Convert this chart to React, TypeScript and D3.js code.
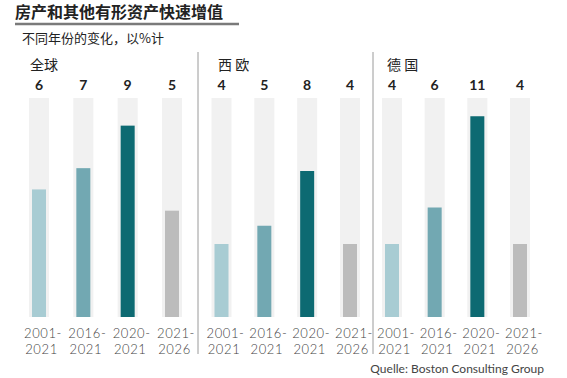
import React from "react";
import * as d3 from "d3";

const periods = ["2001-2021", "2016-2021", "2020-2021", "2021-2026"];
const regions = ["全球", "西 欧", "德 国"];
const globalValues = [6, 7, 9, 5];
const westEuropeValues = [4, 5, 8, 4];
const germanyValues = [4, 6, 11, 4];
const seriesValues = [globalValues, westEuropeValues, germanyValues];
const barColors = ["#a8ccd3", "#72a8b2", "#0d6a72", "#bcbcbc"];

const W = 567;
const H = 378;
const panelRanges: [number, number][] = [
  [39, 172],
  [221.5, 350],
  [392, 520],
];
const panelDomainMax = [10.3, 12, 12];
const headerX = [30, 218, 387];
const dividers = [198, 373];
const yTop = 98;
const yBottom = 317;
const bgW = 20;
const barW = 14;

export default function App() {
  const num = "Lato, 'Noto Sans', sans-serif";
  const cjk = "'Noto Sans CJK SC', 'Noto Sans', sans-serif";
  return (
    <div style={{ position: "fixed", left: 0, top: 0, width: W, height: H, background: "#fff" }}>
      <svg width={W} height={H} style={{ display: "block" }}>
        <rect width={W} height={H} fill="#fff" />
        <text x={15} y={18} fontFamily={cjk} fontWeight={700} fontSize={16} fill="#222">
          房产和其他有形资产快速增值
        </text>
        <line x1={15} x2={239} y1={24} y2={24} stroke="#7a7a7a" strokeWidth={2.5} />
        <text x={22} y={43} fontFamily={cjk} fontSize={13} fill="#222">
          不同年份的变化，以%计
        </text>
        {dividers.map((x, i) => (
          <line key={i} x1={x} x2={x} y1={52} y2={354} stroke="#9a9a9a" strokeWidth={1} />
        ))}
        {regions.map((r, pi) => {
          const x = d3.scalePoint<string>().domain(periods).range(panelRanges[pi]);
          const y = d3.scaleLinear().domain([0, panelDomainMax[pi]]).range([yBottom, yTop]);
          const vals = seriesValues[pi];
          return (
            <g key={r}>
              <text x={headerX[pi]} y={70} fontFamily={cjk} fontSize={14} fill="#222">
                {r}
              </text>
              {periods.map((p, i) => {
                const cx = x(p) as number;
                const [a, b] = p.split("-");
                return (
                  <g key={p}>
                    <rect x={cx - bgW / 2} y={y(panelDomainMax[pi])} width={bgW} height={y(0) - y(panelDomainMax[pi])} fill="#f1f1f1" />
                    <rect x={cx - barW / 2} y={y(vals[i])} width={barW} height={y(0) - y(vals[i])} fill={barColors[i]} />
                    <text x={cx} y={90} textAnchor="middle" fontFamily={num} fontWeight={700} fontSize={14} fill="#222">
                      {vals[i]}
                    </text>
                    <text x={cx + 4} y={337.5} textAnchor="middle" fontFamily={num} fontWeight={300} fontSize={13} letterSpacing={0.6} fill="#444">
                      {a + "-"}
                    </text>
                    <text x={cx + 2.5} y={353.5} textAnchor="middle" fontFamily={num} fontWeight={300} fontSize={13} letterSpacing={0.6} fill="#444">
                      {b}
                    </text>
                  </g>
                );
              })}
            </g>
          );
        })}
        <text x={544} y={373} textAnchor="end" fontFamily={num} fontSize={12} fill="#444">
          Quelle: Boston Consulting Group
        </text>
      </svg>
    </div>
  );
}
